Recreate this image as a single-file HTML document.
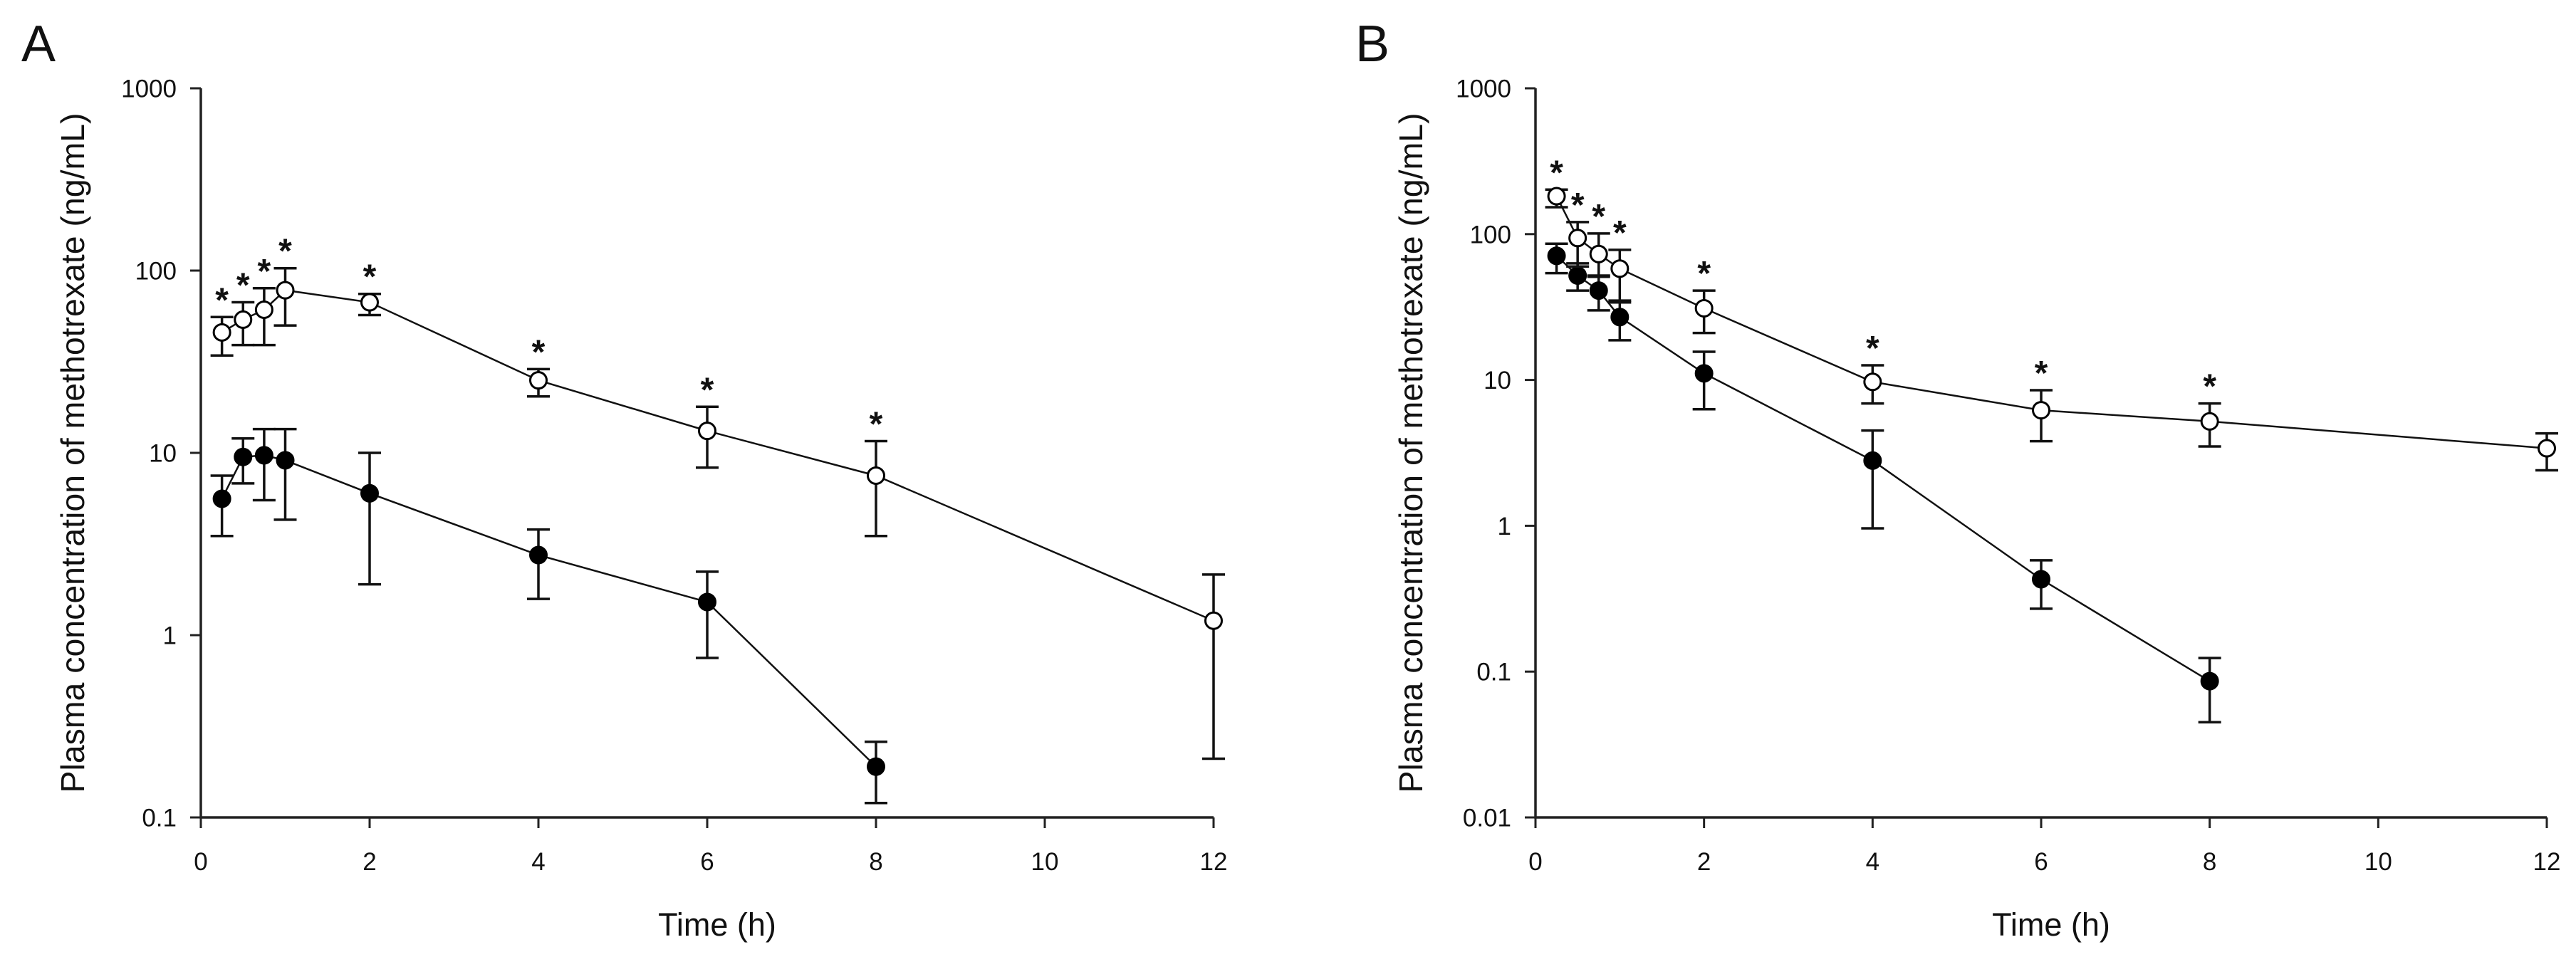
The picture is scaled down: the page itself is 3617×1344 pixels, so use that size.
<!DOCTYPE html>
<html><head><meta charset="utf-8"><style>
html,body{margin:0;padding:0;background:#fff;}
svg{display:block;font-family:"Liberation Sans",Arial,sans-serif;}
</style></head><body>
<svg id="chart" width="3617" height="1344" viewBox="0 0 3617 1344" xmlns="http://www.w3.org/2000/svg"></svg>
<script>
// ---- Data ----
const timesA = [0.25, 0.5, 0.75, 1, 2, 4, 6, 8, 12];
const openA = [45.8, 53.8, 61, 78, 67, 25, 13.2, 7.5, 1.2];
const openAHi = [55.6, 67, 80, 103, 74.5, 28.8, 17.9, 11.6, 2.15];
const openALo = [34.2, 39, 39, 50, 57, 20.4, 8.3, 3.5, 0.21];
const timesAF = [0.25, 0.5, 0.75, 1, 2, 4, 6, 8];
const filledA = [5.6, 9.5, 9.7, 9.1, 6.0, 2.75, 1.52, 0.19];
const filledAHi = [7.5, 12, 13.5, 13.5, 10, 3.8, 2.23, 0.26];
const filledALo = [3.5, 6.8, 5.5, 4.3, 1.9, 1.58, 0.75, 0.12];
const starsA = [0.25, 0.5, 0.75, 1, 2, 4, 6, 8];

const timesB = [0.25, 0.5, 0.75, 1, 2, 4, 6, 8, 12];
const openB = [182, 94, 73, 58, 31, 9.7, 6.2, 5.2, 3.4];
const openBHi = [202, 121, 101, 78, 41, 12.6, 8.5, 6.9, 4.3];
const openBLo = [153, 60, 52, 35, 21, 6.9, 3.8, 3.5, 2.4];
const timesBF = [0.25, 0.5, 0.75, 1, 2, 4, 6, 8];
const filledB = [71, 52, 41, 27, 11.1, 2.8, 0.43, 0.086];
const filledBHi = [86, 63, 51, 34, 15.6, 4.5, 0.58, 0.124];
const filledBLo = [54, 41, 30, 18.7, 6.3, 0.96, 0.27, 0.045];
const starsB = [0.25, 0.5, 0.75, 1, 2, 4, 6, 8];

const xTicks = [0, 2, 4, 6, 8, 10, 12];
const yTicksA = [0.1, 1, 10, 100, 1000];
const yTickLabelsA = ["0.1", "1", "10", "100", "1000"];
const yTicksB = [0.01, 0.1, 1, 10, 100, 1000];
const yTickLabelsB = ["0.01", "0.1", "1", "10", "100", "1000"];

const NS = "http://www.w3.org/2000/svg";
const svg = document.getElementById("chart");
function mk(tag, attrs, parent) {
  const e = document.createElementNS(NS, tag);
  for (const k in attrs) e.setAttribute(k, attrs[k]);
  (parent || svg).appendChild(e);
  return e;
}

function panel(cfg) {
  const g = mk("g", {});
  
  
  const x = t => cfg.x0 + (t - 0) / 12 * (cfg.x1 - cfg.x0);
  const lmin = Math.log10(cfg.ymin), lmax = Math.log10(cfg.ymax);
  const y = v => cfg.yb - (Math.log10(v) - lmin) / (lmax - lmin) * (cfg.yb - cfg.yt);

  const ax = mk("path", {d: `M${cfg.x0} ${cfg.yt}V${cfg.yb}H${cfg.x1}`, stroke: "#222", "stroke-width": 3.5, fill: "none"}, g);
  
  
  cfg.yticks.forEach((v, i) => {
    const yy = y(v);
    const tk = mk("line", {x1: cfg.x0 - 15, x2: cfg.x0, y1: yy, y2: yy, stroke: "#222", "stroke-width": 3}, g);
    
    
    const tl = mk("text", {x: cfg.x0 - 34, y: yy + 12.5, "text-anchor": "end", "font-size": 35, fill: "#111"}, g);
    tl.textContent = cfg.ylabels[i];
    
    
  });
  xTicks.forEach(t => {
    const xx = x(t);
    const tk = mk("line", {x1: xx, x2: xx, y1: cfg.yb, y2: cfg.yb + 15, stroke: "#222", "stroke-width": 3}, g);
    
    
    const tl = mk("text", {x: xx, y: 1222, "text-anchor": "middle", "font-size": 35, fill: "#111"}, g);
    tl.textContent = String(t);
    
    
  });
  const xt = mk("text", {x: (cfg.x0 + cfg.x1) / 2 + 14, y: 1314, "text-anchor": "middle", "font-size": 45, fill: "#111"}, g);
  xt.textContent = "Time (h)";
  
  
  const yt = mk("text", {x: 0, y: 0, "text-anchor": "middle", "font-size": 46, fill: "#111", textLength: 955, lengthAdjust: "spacingAndGlyphs", transform: `translate(${cfg.ylx},636) rotate(-90)`}, g);
  yt.textContent = "Plasma concentration of methotrexate (ng/mL)";
  
  
  const pl = mk("text", {x: cfg.labx, y: 86, "font-size": 72, fill: "#111"}, g);
  pl.textContent = cfg.label;
  
  

  function series(ts, vals, hi, lo, filled, nm) {
    const sg = mk("g", {}, g);
    
    
    const d = ts.map((t, i) => (i ? "L" : "M") + x(t) + " " + y(vals[i])).join("");
    const ln = mk("path", {d: d, stroke: "#111", "stroke-width": 2.5, fill: "none"}, sg);
    
    
    ts.forEach((t, i) => {
      const xx = x(t);
      const eb = mk("path", {d: `M${xx} ${y(hi[i])}V${y(lo[i])}M${xx - 16} ${y(hi[i])}H${xx + 16}M${xx - 16} ${y(lo[i])}H${xx + 16}`, stroke: "#111", "stroke-width": 3.5, fill: "none"}, sg);
      
      
    });
    ts.forEach((t, i) => {
      const c = mk("circle", {cx: x(t), cy: y(vals[i]), r: 11.5, fill: filled ? "#000" : "#fff", stroke: "#000", "stroke-width": 3}, sg);
      
      
    });
  }
  series(cfg.tf, cfg.f, cfg.fhi, cfg.flo, true, "series-filled");
  series(cfg.to, cfg.o, cfg.ohi, cfg.olo, false, "series-open");
  cfg.stars.forEach(t => {
    const i = cfg.to.indexOf(t);
    const s = mk("text", {x: x(t), y: y(cfg.ohi[i]) - 36 + 28, "text-anchor": "middle", "font-size": 48, "font-weight": "bold", fill: "#111"}, g);
    s.textContent = "*";
    
    
  });
}

panel({name: "panel-a", label: "A", labx: 30, ylx: 118, x0: 282, x1: 1704, yt: 124, yb: 1148, ymin: 0.1, ymax: 1000,
  yticks: yTicksA, ylabels: yTickLabelsA, to: timesA, o: openA, ohi: openAHi, olo: openALo,
  tf: timesAF, f: filledA, fhi: filledAHi, flo: filledALo, stars: starsA});
panel({name: "panel-b", label: "B", labx: 1903, ylx: 1997, x0: 2156, x1: 3576, yt: 124, yb: 1148, ymin: 0.01, ymax: 1000,
  yticks: yTicksB, ylabels: yTickLabelsB, to: timesB, o: openB, ohi: openBHi, olo: openBLo,
  tf: timesBF, f: filledB, fhi: filledBHi, flo: filledBLo, stars: starsB});
</script>
</body></html>
